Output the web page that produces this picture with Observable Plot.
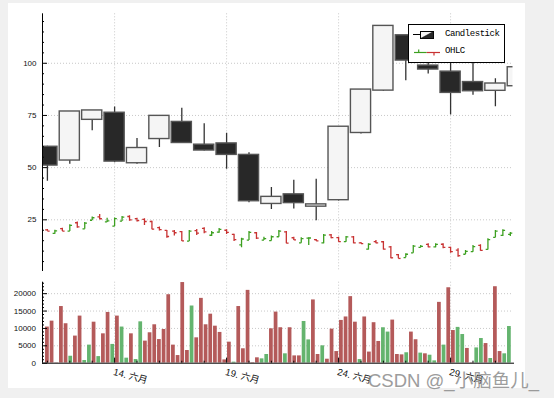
<!DOCTYPE html>
<html><head><meta charset="utf-8">
<script src="https://cdn.jsdelivr.net/npm/d3@7"></script>
<script src="https://cdn.jsdelivr.net/npm/@observablehq/plot@0.6"></script>
<style>
html,body{margin:0;padding:0;background:#f0f0f0;width:554px;height:398px;overflow:hidden;position:relative}
#panel{position:absolute;left:8px;top:3px;width:517px;height:385px;background:#fff}
.abs{position:absolute;left:0}
#legend{position:absolute;left:408px;top:24px}
#wm{position:absolute;left:368px;top:366px;font:18.5px "Liberation Sans","Noto Sans CJK SC",sans-serif;color:#8c8c8c;opacity:.85;white-space:nowrap}
</style></head><body>
<div id="panel"></div>
<div id="main" class="abs" style="top:0"></div>
<div id="vol" class="abs" style="top:275px"></div>
<svg id="legend" width="98" height="40">
  <rect x="0.5" y="0.5" width="96" height="38" fill="#fff" stroke="#000"/>
  <line x1="5" x2="26" y1="10.5" y2="10.5" stroke="#000"/>
  <rect x="12.5" y="7.5" width="13" height="7" fill="#f5f5f5" stroke="#000"/>
  <polygon points="12.5,14.5 25.5,7.5 25.5,14.5" fill="#282828" stroke="#000" stroke-width="0.5"/>
  <text x="37" y="12" font-family="Liberation Mono, DejaVu Sans Mono, monospace" font-size="9" letter-spacing="-0.45" fill="#000">Candlestick</text>
  <line x1="6" x2="18.7" y1="28.5" y2="28.5" stroke="#3ca020" stroke-width="1.2"/>
  <line x1="10.7" x2="10.7" y1="25.5" y2="28.5" stroke="#3ca020" stroke-width="1.2"/>
  <line x1="18.7" x2="32" y1="28.5" y2="28.5" stroke="#c83232" stroke-width="1.2"/>
  <line x1="26" x2="26" y1="28.5" y2="31.5" stroke="#c83232" stroke-width="1.2"/>
  <text x="37" y="29" font-family="Liberation Mono, DejaVu Sans Mono, monospace" font-size="9" letter-spacing="-0.45" fill="#000">OHLC</text>
</svg>
<div id="wm">CSDN @_小脑鱼儿_</div>
<script>
// ---- data ----
// daily candlesticks starting 11 June 2014
const candleOpen  = [60.0,53.4,72.9,76.3,52.1,63.7,71.9,61.0,61.6,56.1,32.6,37.2,31.3,34.4,66.6,86.9,113.4,98.9,96.0,91.0,86.8,89.0];
const candleHigh  = [60.3,76.9,77.4,79.0,64.0,74.8,78.4,71.0,66.5,57.1,40.5,44.0,44.4,69.6,87.4,117.9,113.4,103.0,104.0,101.5,92.6,99.5];
const candleLow   = [43.5,51.6,67.7,52.3,51.6,59.7,61.6,58.0,49.2,33.2,30.0,30.2,24.5,34.0,66.1,86.6,91.6,94.8,75.2,84.7,79.2,87.5];
const candleClose = [51.0,76.9,77.4,52.9,59.4,74.8,61.8,58.2,56.1,33.9,36.0,33.0,32.4,69.6,87.4,117.9,101.3,97.0,85.8,86.6,90.3,98.1];
// OHLC bars every 8 hours
const ohlcOpen  = [20.2,18.5,20.8,19.6,23.6,20.7,24.8,26.4,24.0,22.0,24.4,26.6,25.6,25.2,24.2,21.3,19.9,19.6,19.3,14.8,19.8,20.9,17.6,19.1,20.0,18.0,13.0,15.3,18.8,15.3,15.0,16.9,19.2,16.4,14.0,16.2,15.5,14.0,17.8,16.5,14.6,16.8,14.0,11.0,14.6,14.5,12.0,8.3,6.9,9.2,11.8,13.2,12.0,13.3,11.8,10.5,8.5,9.8,12.8,10.8,16.6,17.5,18.0];
const ohlcHigh  = [20.35,20.0,21.0,22.6,23.9,23.7,26.3,27.5,25.8,25.9,26.6,26.9,25.8,25.5,24.35,21.5,19.9,19.9,19.4,19.9,20.35,21.2,19.4,20.8,20.2,18.1,16.2,19.4,18.9,16.7,17.3,19.9,19.4,16.7,16.4,16.4,15.6,18.0,18.0,16.7,17.0,17.0,14.1,13.5,15.1,14.6,12.2,8.4,8.7,12.7,12.7,13.5,13.5,13.5,11.9,11.1,10.3,12.7,13.0,15.9,19.9,20.2,18.9];
const ohlcLow   = [19.5,18.1,19.4,19.4,21.0,20.5,24.7,25.0,23.7,21.8,24.2,24.35,23.9,22.3,20.2,19.6,16.2,17.3,14.6,14.6,17.5,18.3,17.0,18.6,18.0,14.6,11.6,15.1,15.6,15.1,14.8,16.7,13.5,15.1,13.8,12.7,14.6,13.5,15.9,14.3,14.3,13.5,13.5,10.6,13.5,10.6,6.3,6.3,6.8,9.0,11.6,11.6,11.6,11.1,9.0,7.1,8.4,9.5,10.0,10.6,16.4,17.0,17.0];
const ohlcClose = [19.6,19.7,19.6,22.3,21.6,23.4,26.0,25.5,24.5,25.6,26.3,25.0,24.6,24.2,20.5,20.3,17.0,18.8,14.9,19.6,18.6,19.2,18.8,20.4,19.0,15.5,15.8,19.0,16.2,16.0,16.9,19.6,13.8,15.4,16.0,16.3,14.9,17.7,16.5,14.6,16.8,14.0,13.6,13.3,14.0,11.0,6.8,6.5,8.5,12.4,12.3,12.0,13.2,11.8,9.8,7.8,9.9,12.2,10.4,15.5,19.6,19.9,18.6];
// volume every 5 hours (negative sign = falling volume, drawn red)
const volume = [-10400,-12100,-100,-16300,-11350,2000,-7800,-13550,770,5200,-11800,1900,-8450,-14600,5400,-13550,10400,1450,-8450,1050,
  11900,-6350,-8750,-11050,-6800,-9700,-19700,-5200,-2200,-23200,-3650,16450,-7300,-18650,-11050,-14100,-10650,-8850,-950,-6050,
  300,-16300,-4150,-20950,-150,-1550,1250,2500,-9900,-14700,-10200,2700,-10200,-2100,-2100,12000,6700,-18200,-2500,5000,
  -1150,-9800,-3350,-12300,-13300,-19150,-11800,1050,-13300,-3200,-11650,-6250,10200,8950,-12400,-2500,-2400,3000,-8950,-6750,
  2900,-2700,2300,670,-17500,5200,-21700,-9400,10300,8250,-4250,-100,4400,7100,-5650,1350,-22000,-3350,2700,10550];
// axes
const mainYTicks = [25, 50, 75, 100];
const mainYTickLabels = ["25", "50", "75", "100"];
const volYTicks = [0, 5000, 10000, 15000, 20000];
const volYTickLabels = ["0", "5000", "10000", "15000", "20000"];
const xTickDays = [14, 19, 24, 29];
const xTickLabels = ["14. 六月", "19. 六月", "24. 六月", "29. 六月"];

// ---- build ----
const DAY = 864e5, HOUR = 36e5;
const start = Date.UTC(2014, 5, 11);
const xDomain = [new Date(start - 0.219 * DAY), new Date(start + 20.786 * DAY)];
const W = 554, mL = 42, mR = 554 - 512.5;
const pxDay = (512.5 - 42) / (21.005);
const dayOf = px => px / pxDay * DAY;
const x0 = +xDomain[0];
const D = ms => new Date(ms);

const candles = candleOpen.map((o, i) => ({t: start + i * DAY, o, h: candleHigh[i], l: candleLow[i], c: candleClose[i]}));
const ohlc = ohlcOpen.map((o, i) => ({t: start + i * 8 * HOUR, o, h: ohlcHigh[i], l: ohlcLow[i], c: ohlcClose[i]}));
const vols = volume.map((v, i) => ({t: start + i * 5 * HOUR, v: Math.abs(v), up: v > 0}));
const xTickDates = xTickDays.map(d => D(Date.UTC(2014, 5, d)));
const subDays = d3.range(0, 21).map(k => start + k * DAY).filter(t => !xTickDates.some(d => +d === t)).map(D);

const GREEN = "#3ca020", RED = "#c83232";
const grid = {stroke: "#c8c8c8", strokeOpacity: 1, strokeDasharray: "1,2"};

const yMain = [0.24, 123.7];
const mainSub = d3.range(5, 125, 5).filter(v => !mainYTicks.includes(v));
const ohlcColor = d => d.c >= d.o ? GREEN : RED;

const main = Plot.plot({
  width: W, height: 275,
  marginLeft: mL, marginRight: mR, marginTop: 13.3, marginBottom: 4,
  x: {type: "utc", domain: xDomain, axis: null},
  y: {domain: yMain, axis: null},
  color: {type: "identity"},
  style: {background: "transparent", fontFamily: "Liberation Sans, Arial, sans-serif", fontSize: "8px", color: "#111", overflow: "visible"},
  marks: [
    Plot.gridY(mainYTicks, grid),
    Plot.gridX(xTickDates, grid),
    Plot.ruleX(candles, {x: d => D(d.t), y1: "l", y2: "h", stroke: "#333", strokeWidth: 1.3, clip: true}),
    Plot.rect(candles, {x1: d => D(d.t - 0.45 * DAY), x2: d => D(d.t + 0.45 * DAY), y1: "o", y2: "c",
      fill: d => d.c >= d.o ? "#f5f5f5" : "#282828", stroke: "#555", strokeWidth: 1.4, clip: true}),
    Plot.ruleX(ohlc, {x: d => D(d.t), y1: "l", y2: "h", stroke: ohlcColor, strokeWidth: 1.3, clip: true}),
    Plot.link(ohlc, {x1: d => D(d.t - 0.1 * DAY), x2: d => D(d.t), y1: "o", y2: "o", stroke: ohlcColor, strokeWidth: 1.3, clip: true}),
    Plot.link(ohlc, {x1: d => D(d.t), x2: d => D(d.t + 0.1 * DAY), y1: "c", y2: "c", stroke: ohlcColor, strokeWidth: 1.3, clip: true}),
    Plot.ruleX([xDomain[0]], {stroke: "#000"}),
    Plot.ruleY(mainYTicks, {x1: xDomain[0], x2: D(x0 + dayOf(5)), stroke: "#000"}),
    Plot.ruleY(mainSub, {x1: xDomain[0], x2: D(x0 + dayOf(2)), stroke: "#000"}),
    Plot.axisY({ticks: mainYTicks, tickSize: 0, tickPadding: 6, label: null, tickFormat: (d, i) => mainYTickLabels[i], fill: "#111"})
  ]
});
document.getElementById("main").append(main);

const yVol = [0, 23300];
const volSub = d3.range(1000, 24000, 1000).filter(v => v % 5000 !== 0);
const vpx = (yVol[1] - yVol[0]) / 81;
const vol = Plot.plot({
  width: W, height: 123,
  marginLeft: mL, marginRight: mR, marginTop: 6.7, marginBottom: 35.3,
  x: {type: "utc", domain: xDomain, axis: null},
  y: {domain: yVol, axis: null},
  color: {type: "identity"},
  style: {background: "transparent", fontFamily: "Liberation Sans, Arial, sans-serif", fontSize: "8px", color: "#111", overflow: "visible"},
  marks: [
    Plot.gridY(volYTicks.filter(v => v > 0), grid),
    Plot.gridX(xTickDates, grid),
    Plot.rect(vols, {x1: d => D(d.t - 2 * HOUR), x2: d => D(d.t + 2 * HOUR), y1: 0, y2: "v",
      fill: d => d.up ? "rgb(100,180,110)" : "rgb(180,90,90)", clip: true}),
    Plot.ruleX([xDomain[0]], {stroke: "#000"}),
    Plot.ruleY([0], {stroke: "#000", x1: xDomain[0], x2: D(x0 + dayOf(472))}),
    Plot.ruleY(volYTicks, {x1: xDomain[0], x2: D(x0 + dayOf(5)), stroke: "#000"}),
    Plot.ruleY(volSub, {x1: xDomain[0], x2: D(x0 + dayOf(2)), stroke: "#000"}),
    Plot.ruleX(xTickDates, {y1: 0, y2: 5 * vpx, stroke: "#000"}),
    Plot.ruleX(subDays, {y1: 0, y2: 2 * vpx, stroke: "#000"}),
    Plot.axisY({ticks: volYTicks, tickSize: 0, tickPadding: 6.5, label: null, tickFormat: (d, i) => volYTickLabels[i], fill: "#111"}),
    Plot.text(xTickDates, {x: d => d, y: 0, text: (d, i) => xTickLabels[i], dx: 0, dy: 5, rotate: 15,
      textAnchor: "start", lineAnchor: "top", fontSize: 9.5, fill: "#111",
      fontFamily: "Liberation Sans, Noto Sans CJK SC, sans-serif"})
  ]
});
document.getElementById("vol").append(vol);
</script>
</body></html>
